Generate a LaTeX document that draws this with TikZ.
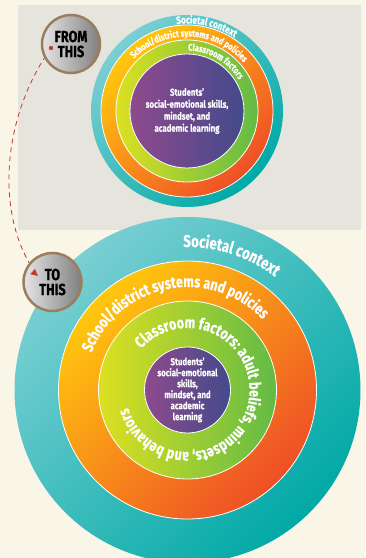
\documentclass[tikz,border=0pt]{standalone}
\usepackage{fontspec}
\newfontfamily\condfont{Fira Sans}[FakeStretch=0.78, FakeBold=0.3]
\newfontfamily\badgefamily{Fira Sans}[FakeStretch=0.8, FakeBold=0.6]
\usetikzlibrary{decorations.text}

\definecolor{cream}{HTML}{F9F6E8}
\definecolor{panelgray}{HTML}{E6E5DD}
\definecolor{cyanlight}{HTML}{7ACFD3}
\definecolor{cyandark}{HTML}{00A9A6}
\definecolor{orangelight}{HTML}{FFC70D}
\definecolor{orangedark}{HTML}{EF4F27}
\definecolor{greenlight}{HTML}{DDE021}
\definecolor{greendark}{HTML}{62BB46}
\definecolor{purplelight}{HTML}{8E4A8D}
\definecolor{purpledark}{HTML}{434A8B}
\definecolor{badgebrown}{HTML}{9A7E5E}
\definecolor{arrowred}{HTML}{C63A2E}

\newcommand\ringsmall{\condfont\bfseries\fontsize{9.5}{9.5}\selectfont}
\newcommand\ringtop{\condfont\bfseries\fontsize{10.5}{10.5}\selectfont}
\newcommand\ringbig{\condfont\bfseries\fontsize{16}{16}\selectfont}
\newcommand\ringhuge{\condfont\bfseries\fontsize{17}{17}\selectfont}
\newcommand\badgefont{\badgefamily\bfseries\fontsize{16}{15}\selectfont}

\begin{document}
\begin{tikzpicture}[x=1pt, y=1pt,
    ringtext/.style={decorate, decoration={text along path, text align=center, text color=white, text={#1}}},
    cyanring/.style={top color=cyanlight, bottom color=cyandark, shading angle=45},
    orangering/.style={top color=orangelight, bottom color=orangedark, shading angle=45, draw=white, line width=0.8},
    greenring/.style={left color=greenlight, right color=greendark, draw=white, line width=0.8},
    purplecore/.style={left color=purplelight, right color=purpledark, draw=white, line width=0.8},
    coretext/.style={text=white, align=center},
    badge/.style={circle, minimum size=58, inner sep=0, draw=badgebrown, line width=2.5,
      left color=black!10, right color=black!50, align=center, font=\badgefont}]
    \useasboundingbox (0,0) rectangle (365,558);
    \clip (0,0) rectangle (365,558);
    \fill[cream] (0,0) rectangle (365,558);
    \fill[panelgray] (18,328) rectangle (361,553);

    \coordinate (c1) at (187,447);
    \coordinate (c2) at (187.5,168);
    \coordinate (fromdot) at (51,510);
    \coordinate (totip) at (38,282);

    \path[cyanring] (c1) circle[radius=96];
    \path[orangering] (c1) circle[radius=86];
    \path[greenring] (c1) circle[radius=71];
    \path[purplecore] (c1) circle[radius=57];
    \path[ringtext={|\ringtop|Societal context}, shift={(c1)}]
      (147:87.5) arc[start angle=147, end angle=7, radius=87.5];
    \path[ringtext={|\ringsmall|School/district systems and policies}, shift={(c1)}]
      (178:74.5) arc[start angle=178, end angle=-2, radius=74.5];
    \path[ringtext={|\ringsmall|Classroom factors}, shift={(c1)}]
      (150:60.5) arc[start angle=150, end angle=-30, radius=60.5];
    \node[coretext, font=\condfont\bfseries\fontsize{10}{12}\selectfont] (core1) at (c1)
      {Students’\\social-emotional skills,\\mindset, and\\academic learning};

    \path[cyanring] (c2) circle[radius=173];
    \path[orangering] (c2) circle[radius=129];
    \path[greenring] (c2) circle[radius=89];
    \path[purplecore] (c2) circle[radius=43];
    \path[ringtext={|\ringhuge|Societal context}, shift={(c2)}]
      (162:143) arc[start angle=162, end angle=-18, radius=143];
    \path[ringtext={|\ringbig|School/district systems and policies}, shift={(c2)}]
      (201:103) arc[start angle=201, end angle=1, radius=103];
    \path[ringtext={|\ringbig|Classroom factors: adult beliefs, mindsets, and behaviors}, shift={(c2)}]
      (167.5:62) arc[start angle=167.5, end angle=-192.5, radius=62];
    \node[coretext, font=\condfont\bfseries\fontsize{10}{11}\selectfont] (core2) at (c2)
      {Students’\\social-emotional\\skills,\\mindset, and\\academic\\learning};

    \draw[arrowred, line width=0.8, dash pattern=on 5pt off 4pt]
      (fromdot) .. controls (0,438) and (-5,338) .. (totip);
    \node[badge] (from) at (71,514) {FROM\\THIS};
    \node[badge] (to) at (52.5,276) {TO\\THIS};
    \fill[arrowred] (fromdot) circle[radius=2.2];
    \fill[arrowred] (totip) -- ++(-3.1,7.2) -- ++(-4.55,-5.4) -- cycle;
\end{tikzpicture}
\end{document}
